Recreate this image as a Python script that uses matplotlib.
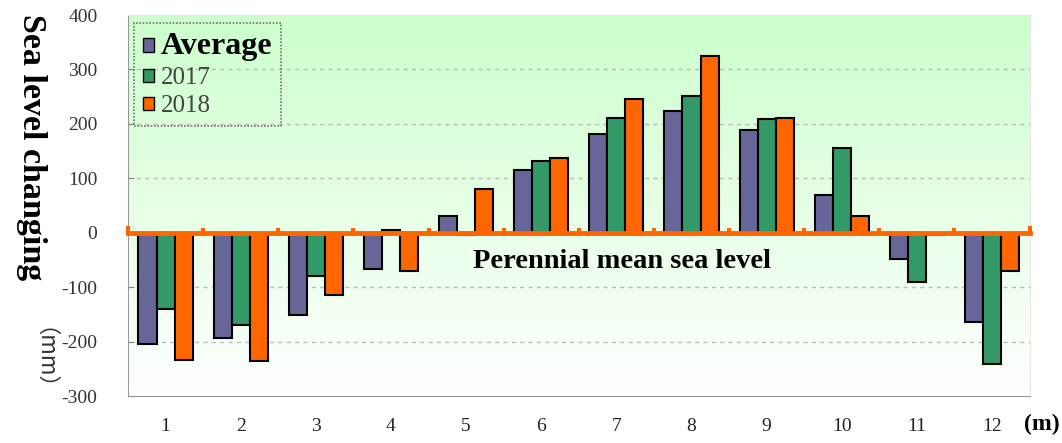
import matplotlib
matplotlib.use("Agg")
import matplotlib.pyplot as plt
import numpy as np
from matplotlib.patches import Patch

months = ["1", "2", "3", "4", "5", "6", "7", "8", "9", "10", "11", "12"]
average = [-205, -193, -151, -67, 31, 116, 182, 224, 189, 69, -49, -164]
y2017 = [-140, -169, -80, 5, -5, 131, 211, 251, 209, 156, -91, -242]
y2018 = [-233, -235, -114, -71, 80, 138, 245, 325, 211, 31, -4, -71]
yticks = [-300, -200, -100, 0, 100, 200, 300, 400]

c_avg = "#666699"
c_17 = "#339966"
c_18 = "#FF6600"
serif = ["Liberation Serif", "DejaVu Serif"]

fig = plt.figure(figsize=(10.62, 4.43), dpi=100)
ax = fig.add_axes([0.1205, 0.106, 0.849, 0.86])

x = np.arange(1, len(months) + 1)
w = 0.24

# gradient background (green at top -> white at bottom)
grad = np.linspace(0, 1, 256).reshape(-1, 1)
top = np.array([0.80, 1.0, 0.80])
bot = np.array([1.0, 1.0, 1.0])
img = top[None, None, :] * (1 - grad[:, :, None]) + bot[None, None, :] * grad[:, :, None]
ax.imshow(img, extent=[0.5, 12.5, -300, 400], origin="upper", aspect="auto", zorder=0)
ax.set_xlim(0.5, 12.5)
ax.set_ylim(-300, 400)

for v in yticks[1:-1]:
    if v != 0:
        ax.axhline(v, color="#BBBBBB", lw=1, ls=(0, (3, 3)), zorder=1)

ax.bar(x - w, average, w, color=c_avg, edgecolor="black", lw=1.5, zorder=3)
ax.bar(x, y2017, w, color=c_17, edgecolor="black", lw=1.5, zorder=3)
ax.bar(x + w, y2018, w, color=c_18, edgecolor="black", lw=1.5, zorder=3)

# zero line and boundary ticks
ax.axhline(0, color=c_18, lw=3.5, zorder=4, clip_on=False)
for b in np.arange(1.5, 12.5, 1.0):
    ax.plot([b, b], [0, 9], color=c_18, lw=3, zorder=4, solid_capstyle="butt")
ax.plot([0.5, 0.5], [0, 9], color=c_18, lw=3, zorder=4, clip_on=False)
ax.plot([12.5, 12.5], [0, 9], color=c_18, lw=3, zorder=4, clip_on=False)

ax.set_yticks(yticks)
ax.set_yticklabels([str(v) for v in yticks], family=serif, fontsize=14, color="#333333")
ax.set_xticks(x)
ax.set_xticklabels(months, family=serif, fontsize=14, color="#222222")
ax.tick_params(axis="x", length=0, pad=16)
ax.tick_params(axis="y", length=4, color="#888888", direction="in", pad=22)
for s in ["top", "right"]:
    ax.spines[s].set_color("#E6E6E6")
for s in ["left", "bottom"]:
    ax.spines[s].set_color("#999999")

ax.text(7.07, -52, "Perennial mean sea level", family=serif, fontsize=20.5,
        fontweight="bold", ha="center", va="center", zorder=5)

fig.text(0.981, 0.042, "(m)", family=serif, fontsize=17, fontweight="bold",
         ha="center", va="center")
fig.text(0.030, 0.668, "Sea level changing", family=serif, fontsize=24.5,
         fontweight="bold", rotation=270, ha="center", va="center")
fig.text(0.030, 0.165, "（mm）", family=["Noto Sans CJK SC", "DejaVu Sans"], fontsize=16,
         rotation=270, ha="center", va="center", color="#333333")

handles = [Patch(facecolor=c_avg, edgecolor="black"),
           Patch(facecolor=c_17, edgecolor="black"),
           Patch(facecolor=c_18, edgecolor="black")]
leg = ax.legend(handles, ["Average", "2017", "2018"], loc="upper left",
                bbox_to_anchor=(0.0, 0.995), borderaxespad=0.25,
                handlelength=0.45, handleheight=0.45,
                handletextpad=0.25, labelspacing=0.25, borderpad=0.35,
                fancybox=False, prop={"family": serif, "size": 18})
fr = leg.get_frame()
fr.set_facecolor("none")
fr.set_edgecolor("#555555")
fr.set_linestyle((0, (1, 1)))
fr.set_linewidth(1.2)
t = leg.get_texts()
t[0].set_fontweight("bold")
t[0].set_fontsize(23)
for tt in t[1:]:
    tt.set_color("#444444")
leg.set_zorder(6)

fig.savefig("out.png", dpi=100)
